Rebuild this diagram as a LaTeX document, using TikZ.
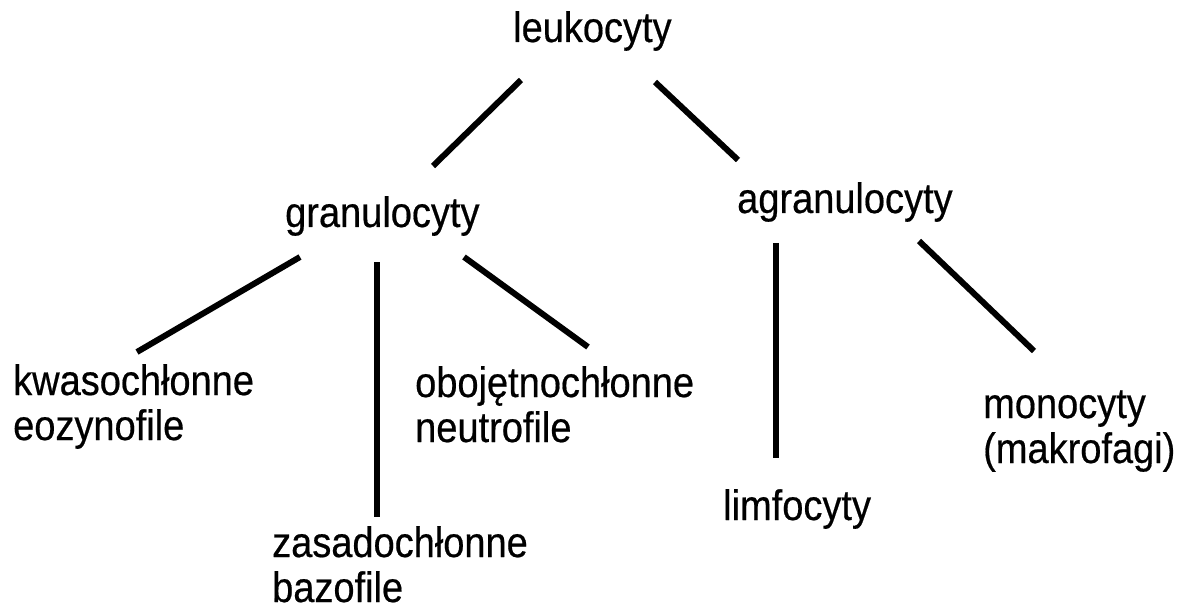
\documentclass[tikz,border=0pt]{standalone}
\usepackage{fontspec}
\setmainfont{Liberation Sans}
\newfontfamily\lblfont[FakeBold=0.5]{Liberation Sans}
\usepackage{graphicx}
\newcommand\Tx[1]{\scalebox{1}[1.12]{#1}}
\begin{document}
\begin{tikzpicture}[x=1pt,y=-1pt,
  lbl/.style={anchor=base west,inner sep=0pt,font=\lblfont\fontsize{38}{45}\selectfont},
  conn/.style={line width=6pt,black}]
\useasboundingbox[fill=white] (0,0) rectangle (1182,612);
\node[lbl] (leuk) at (513,42) {\Tx{leukocyty}};
\node[lbl] (gran) at (285,227) {\Tx{granulocyty}};
\node[lbl] (agran) at (737,213) {\Tx{agranulocyty}};
\node[lbl] (kwas) at (13,395) {\begin{tabular}[t]{@{}l@{}}\Tx{kwasochłonne}\\\Tx{eozynofile}\end{tabular}};
\node[lbl] (oboj) at (415,397) {\begin{tabular}[t]{@{}l@{}}\Tx{obojętnochłonne}\\\Tx{neutrofile}\end{tabular}};
\node[lbl] (zasa) at (272,557) {\begin{tabular}[t]{@{}l@{}}\Tx{zasadochłonne}\\\Tx{bazofile}\end{tabular}};
\node[lbl] (limf) at (723,520) {\Tx{limfocyty}};
\node[lbl] (mono) at (983,418) {\begin{tabular}[t]{@{}l@{}}\Tx{monocyty}\\\Tx{(makrofagi)}\end{tabular}};
\coordinate (a1) at (521,80);  \coordinate (a2) at (433,166);
\coordinate (b1) at (655,82);  \coordinate (b2) at (738,160);
\coordinate (c1) at (300,257); \coordinate (c2) at (137,352);
\coordinate (d1) at (377,262); \coordinate (d2) at (377,517);
\coordinate (e1) at (464,257); \coordinate (e2) at (588,347);
\coordinate (f1) at (776,243); \coordinate (f2) at (776,458);
\coordinate (g1) at (919,241); \coordinate (g2) at (1034,351);
\draw[conn] (a1) -- (a2);
\draw[conn] (b1) -- (b2);
\draw[conn] (c1) -- (c2);
\draw[conn] (d1) -- (d2);
\draw[conn] (e1) -- (e2);
\draw[conn] (f1) -- (f2);
\draw[conn] (g1) -- (g2);
\end{tikzpicture}
\end{document}
